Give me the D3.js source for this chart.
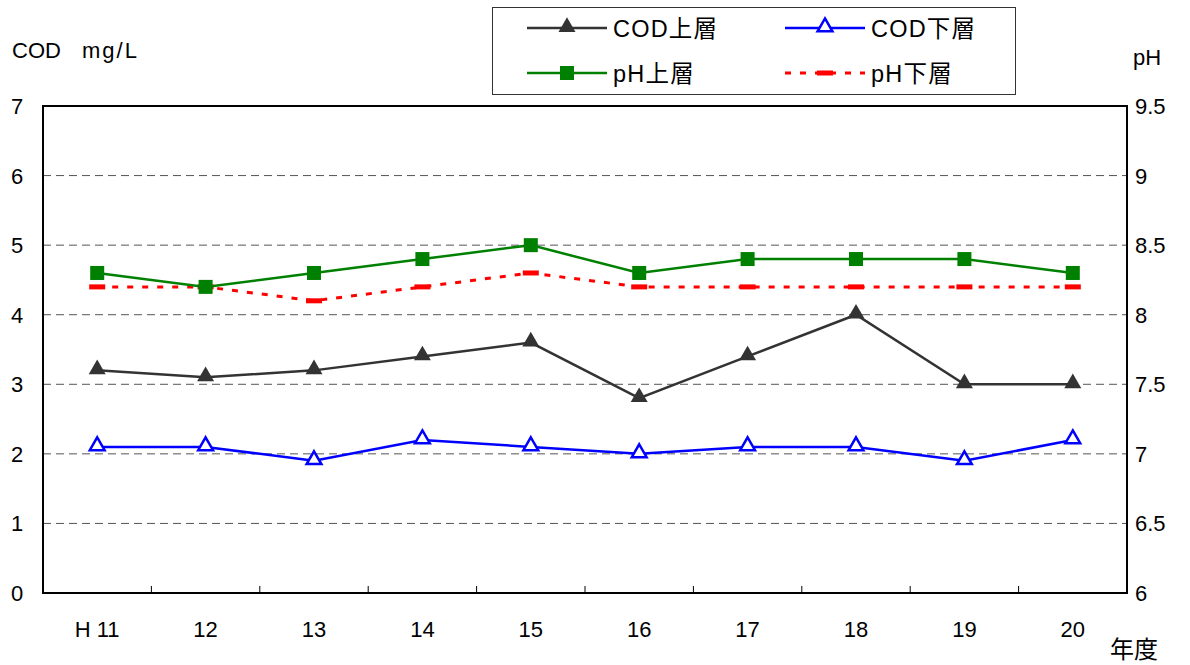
<!DOCTYPE html>
<html><head><meta charset="utf-8">
<script src="https://cdn.jsdelivr.net/npm/d3@7"></script>
<style>body{margin:0;background:#fff}svg{display:block}text{font-family:"Liberation Sans","Noto Sans CJK JP",sans-serif;fill:#000}</style>
</head><body>
<script>
const categories = ["H 11","12","13","14","15","16","17","18","19","20"];
const codUpper = [3.2,3.1,3.2,3.4,3.6,2.8,3.4,4.0,3.0,3.0];
const codLower = [2.1,2.1,1.9,2.2,2.1,2.0,2.1,2.1,1.9,2.2];
const phUpper = [8.3,8.2,8.3,8.4,8.5,8.3,8.4,8.4,8.4,8.3];
const phLower = [8.2,8.2,8.1,8.2,8.3,8.2,8.2,8.2,8.2,8.2];
const leftTicks = [0,1,2,3,4,5,6,7];
const rightTicks = [6,6.5,7,7.5,8,8.5,9,9.5];

const W=1190,H=665, L=43, R=1127, T=106, B=593;
const svg=d3.select("body").append("svg").attr("width",W).attr("height",H);
const x=d3.scaleBand().domain(categories).range([L,R]);
const xc=d=>x(d)+x.bandwidth()/2;
const yL=d3.scaleLinear().domain([0,7]).range([B,T]);
const yR=d3.scaleLinear().domain([6,9.5]).range([B,T]);

// gridlines
svg.append("g").selectAll("line").data(leftTicks.slice(1,-1)).join("line")
  .attr("x1",L).attr("x2",R).attr("y1",d=>yL(d)).attr("y2",d=>yL(d))
  .attr("stroke","#555").attr("stroke-width",1).attr("stroke-dasharray","8,5");

// plot border
svg.append("rect").attr("x",L).attr("y",T).attr("width",R-L).attr("height",B-T)
  .attr("fill","none").attr("stroke","#000").attr("stroke-width",2);

// x ticks (inward) at band boundaries
svg.append("g").selectAll("line").data(categories.slice(1)).join("line")
  .attr("x1",d=>x(d)).attr("x2",d=>x(d)).attr("y1",B).attr("y2",B-7)
  .attr("stroke","#000").attr("stroke-width",1);

// left axis labels
svg.append("g").selectAll("text").data(leftTicks).join("text")
  .attr("x",17).attr("y",d=>yL(d)+8).attr("text-anchor","middle").attr("font-size",22).text(d=>d);
// right axis labels
svg.append("g").selectAll("text").data(rightTicks).join("text")
  .attr("x",1135).attr("y",d=>yR(d)+8).attr("text-anchor","start").attr("font-size",22).text(d=>d);
// x labels
svg.append("g").selectAll("text").data(categories).join("text")
  .attr("x",d=>xc(d)).attr("y",637).attr("text-anchor","middle").attr("font-size",22).text(d=>d);

svg.append("text").attr("x",12).attr("y",58).attr("font-size",22).text("COD");
svg.append("text").attr("x",82).attr("y",58).attr("font-size",22).attr("letter-spacing",2).text("mg/L");
svg.append("text").attr("x",1133).attr("y",65).attr("font-size",22).text("pH");
svg.append("text").attr("x",1110).attr("y",658).attr("font-size",24).text("年度");

const tri=d3.symbol().type(d3.symbolTriangle).size(125);
function series(vals,scale,color,dash,sw,marker){
  const g=svg.append("g");
  const line=d3.line().x((d,i)=>xc(categories[i])).y(d=>scale(d));
  g.append("path").datum(vals).attr("d",line).attr("fill","none").attr("stroke",color)
   .attr("stroke-width",sw).attr("stroke-dasharray",dash);
  vals.forEach((v,i)=>marker(g,xc(categories[i]),scale(v)));
}
const mFilledTri=(g,cx,cy)=>g.append("path").attr("d",tri()).attr("transform",`translate(${cx},${cy-1})`).attr("fill","#333");
const mOpenTri=(g,cx,cy)=>g.append("path").attr("d",d3.symbol().type(d3.symbolTriangle).size(95)()).attr("transform",`translate(${cx},${cy-1})`).attr("fill","#fff").attr("stroke","#0000ff").attr("stroke-width",2.5);
const mSquare=(g,cx,cy)=>g.append("rect").attr("x",cx-7).attr("y",cy-7).attr("width",14).attr("height",14).attr("fill","#008000");
const mDash=(g,cx,cy)=>g.append("rect").attr("x",cx-8).attr("y",cy-2.5).attr("width",16).attr("height",5).attr("fill","#ff0000");

series(phLower,yR,"#ff0000","6,9",3,mDash);
series(phUpper,yR,"#008000",null,2.5,mSquare);
series(codUpper,yL,"#333333",null,2.5,mFilledTri);
series(codLower,yL,"#0000ff",null,2.5,mOpenTri);

// legend
const lg=svg.append("g");
lg.append("rect").attr("x",492.5).attr("y",7.5).attr("width",523).attr("height",87).attr("fill","#fff").attr("stroke","#333").attr("stroke-width",1);
const legendItems=[
  {name:"COD上層",x:527,y:28,color:"#333333",dash:null,m:mFilledTri},
  {name:"COD下層",x:785,y:28,color:"#0000ff",dash:null,m:mOpenTri},
  {name:"pH上層",x:527,y:73,color:"#008000",dash:null,m:mSquare},
  {name:"pH下層",x:785,y:73,color:"#ff0000",dash:"6,9",m:mDash}];
legendItems.forEach(it=>{
  lg.append("line").attr("x1",it.x).attr("x2",it.x+80).attr("y1",it.y).attr("y2",it.y)
    .attr("stroke",it.color).attr("stroke-width",it.dash?3:2.5).attr("stroke-dasharray",it.dash);
  it.m(lg,it.x+40,it.y);
  lg.append("text").attr("x",it.x+86).attr("y",it.y+9).attr("font-size",23.5).attr("letter-spacing",1.2).text(it.name);
});
</script>
</body></html>
